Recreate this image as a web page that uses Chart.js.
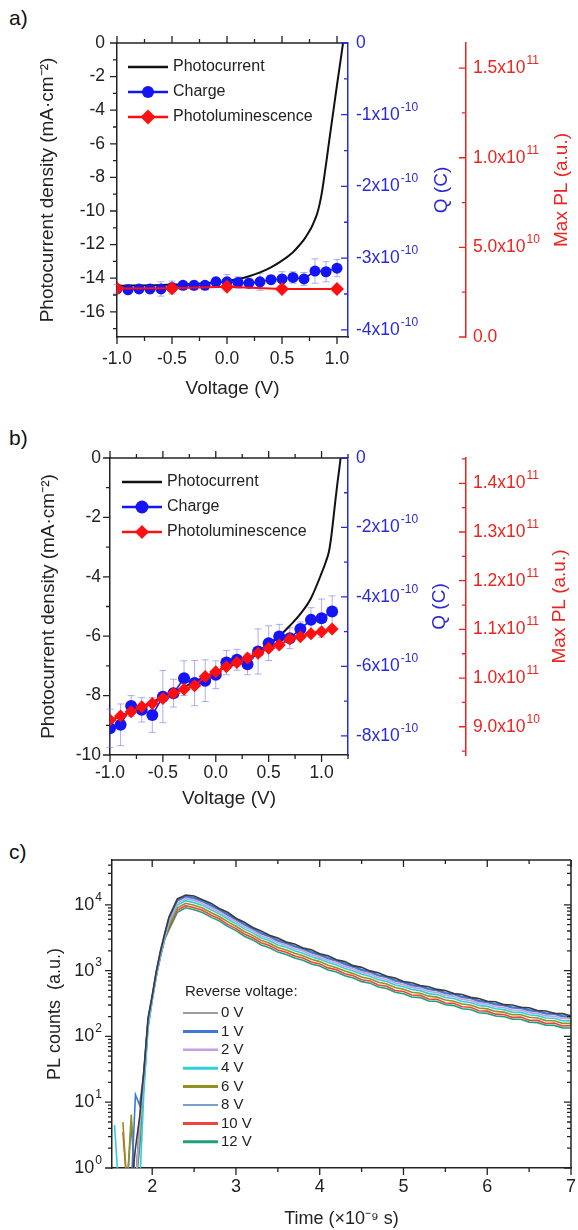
<!DOCTYPE html>
<html>
<head>
<meta charset="utf-8">
<script src="https://cdn.jsdelivr.net/npm/chart.js@4.4.1/dist/chart.umd.min.js"></script>
<style>
  body { margin: 0; background: #fff; width: 578px; height: 1230px; position: relative; overflow: hidden;
         font-family: Arial, "Liberation Sans", sans-serif; }
  canvas { position: absolute; left: 0; }
  .lab { position: absolute; left: 9px; font-size: 21px; color: #111; }
</style>
</head>
<body>
<div class="lab" style="top:6px">a)</div>
<div class="lab" style="top:426px">b)</div>
<div class="lab" style="top:840px">c)</div>
<canvas id="ca" width="578" height="400" style="top:0"></canvas>
<canvas id="cb" width="578" height="410" style="top:400px"></canvas>
<canvas id="cc" width="578" height="420" style="top:810px"></canvas>
<script>
// ---------- panel a ----------
const voltA = [-1.0,-0.9,-0.8,-0.7,-0.6,-0.5,-0.4,-0.3,-0.2,-0.1,0.0,0.1,0.2,0.3,0.4,0.5,0.6,0.7,0.8,0.9,1.0]
const chargeA = [-3.43,-3.44,-3.43,-3.43,-3.43,-3.41,-3.38,-3.38,-3.38,-3.33,-3.33,-3.34,-3.35,-3.33,-3.30,-3.29,-3.27,-3.29,-3.18,-3.19,-3.14] // x1e-10 C
const chargeErrA = [0.06,0.07,0.05,0.06,0.10,0.09,0.05,0.06,0.05,0.06,0.10,0.08,0.07,0.12,0.06,0.10,0.08,0.09,0.17,0.14,0.12]
const plVoltA = [-1.0,-0.5,0.0,0.5,1.0]
const plA = [2.70,2.72,2.80,2.68,2.68] // x1e10 a.u.
const jvVoltA = [-1.0,-0.6,-0.2,0.0,0.1,0.2,0.3,0.4,0.5,0.6,0.65,0.7,0.74,0.77,0.8,0.82,0.84,0.86,0.88,0.91,0.94,0.97,1.0,1.03,1.055]
const jvA = [-14.45,-14.4,-14.3,-14.18,-14.05,-13.88,-13.65,-13.35,-12.95,-12.45,-12.1,-11.7,-11.3,-10.95,-10.5,-10.15,-9.65,-9.0,-8.15,-6.75,-5.3,-3.9,-2.5,-1.15,0]
const xTicksA = [-1,-0.5,0,0.5,1]
const yTicksA = [0,-2,-4,-6,-8,-10,-12,-14,-16]
const qTicksA = [0,-1,-2,-3,-4]      // x1e-10
const plTicksA = [0,5,10,15]         // x1e10

// ---------- panel b ----------
const voltB = [-1.0,-0.9,-0.8,-0.7,-0.6,-0.5,-0.4,-0.3,-0.2,-0.1,0.0,0.1,0.2,0.3,0.4,0.5,0.6,0.7,0.8,0.9,1.0,1.1]
const chargeB = [-7.78,-7.68,-7.14,-7.25,-7.40,-6.87,-6.77,-6.34,-6.48,-6.41,-6.24,-5.89,-5.81,-5.94,-5.57,-5.33,-5.14,-5.19,-4.92,-4.66,-4.61,-4.42]
const chargeErrB = [0.55,0.6,0.3,0.35,0.5,0.75,0.4,0.5,0.65,0.6,0.4,0.35,0.3,0.3,0.65,0.5,0.35,0.3,0.2,0.35,0.55,0.45]
const plB = [9.14,9.22,9.31,9.41,9.48,9.58,9.69,9.77,9.84,10.03,10.13,10.23,10.32,10.41,10.51,10.61,10.68,10.80,10.85,10.91,10.95,11.01]
const jvVoltB = [-1.0,-0.5,0.0,0.3,0.5,0.6,0.7,0.8,0.9,1.0,1.04,1.07,1.09,1.11,1.13,1.15,1.17,1.18]
const jvB = [-8.85,-8.05,-7.2,-6.75,-6.3,-6.0,-5.65,-5.25,-4.72,-3.88,-3.5,-3.15,-2.7,-2.1,-1.45,-0.85,-0.3,0]
const xTicksB = [-1,-0.5,0,0.5,1]
const yTicksB = [0,-2,-4,-6,-8,-10]
const qTicksB = [0,-2,-4,-6,-8]
const plTicksB = [9,10,11,12,13,14]

// ---------- panel c ----------
const times = [1.55,1.6,1.65,1.7,1.75,1.8,1.85,1.9,1.95,2.0,2.05,2.1,2.15,
  2.2,2.3,2.4,2.5,2.6,2.7,2.8,2.9,3.0,3.1,3.2,3.3,3.4,3.5,3.6,3.7,3.8,3.9,4.0,4.1,4.2,4.3,4.4,4.5,4.6,4.7,4.8,4.9,
  5.0,5.1,5.2,5.3,5.4,5.5,5.6,5.7,5.8,5.9,6.0,6.1,6.2,6.3,6.4,6.5,6.6,6.7,6.8,6.9,7.0]
const pl0V = [null,null,null,null,0.5,2,6,30,190,420,1000,2050,3700,
  6500,12300,14100,13600,11900,10600,8800,7700,6250,5450,4520,4020,3440,3120,2720,2540,2210,2070,1800,1680,1460,1370,1190,1120,990,925,820,770,
  685,655,595,570,518,497,450,433,392,378,342,336,304,300,278,273,247,244,225,222,206]
const pl1V = [null,null,null,null,0.5,13,9,28,180,410,980,1950,3600,
  6300,11700,13700,12800,11600,9950,8600,7200,6150,5100,4450,3760,3390,2920,2680,2370,2190,1930,1770,1570,1440,1280,1170,1040,975,860,810,718,
  676,610,590,530,512,462,447,402,390,350,340,312,303,278,276,253,246,226,224,206,204]
const pl2V = [null,null,null,null,null,0.5,4,24,160,380,900,1800,3300,
  5700,10600,12400,11600,10500,9000,7800,6500,5550,4620,4030,3400,3060,2650,2420,2150,1980,1750,1600,1420,1305,1160,1060,940,885,780,735,650,
  612,552,533,482,464,420,404,365,352,318,308,283,274,252,249,230,222,205,203,188,186]
const pl4V = [4.5,0.5,null,null,null,null,0.5,14,130,350,850,1700,3100,
  5300,9900,11550,10800,9800,8400,7280,6080,5170,4310,3750,3170,2850,2460,2260,2000,1840,1625,1495,1325,1215,1080,985,878,822,728,684,606,
  570,515,496,447,432,390,376,340,328,296,286,263,255,234,232,213,207,190,189,173,172]
const pl6V = [null,null,5,0.5,6.5,0.5,3,22,150,370,870,1720,3150,
  4850,9000,10550,9850,8950,7650,6650,5550,4720,3930,3430,2900,2610,2250,2060,1830,1685,1490,1370,1210,1110,985,900,802,752,665,626,553,
  520,470,453,409,395,357,343,310,300,270,262,240,234,214,213,195,190,174,173,158,158]
const pl8V = [null,null,null,0.5,4.8,0.5,5,26,170,400,940,1850,3400,
  6000,11500,13300,12400,11250,9650,8350,6980,5920,4950,4300,3640,3270,2830,2590,2300,2110,1870,1710,1520,1400,1235,1130,1005,945,835,786,695,
  652,592,570,515,494,449,432,390,376,340,328,303,292,270,266,246,237,219,217,200,198]
const pl10V = [null,null,3.5,0.5,null,0.5,5,27,160,380,880,1750,3150,
  4450,8300,9700,9050,8250,7000,6150,5050,4350,3600,3160,2650,2400,2060,1900,1670,1550,1350,1265,1100,1030,895,835,728,695,605,580,500,
  482,425,420,370,366,322,318,282,277,245,242,218,215,195,197,176,175,157,160,144,146]
const pl12V = [null,null,null,null,null,0.5,2,18,140,360,830,1650,3000,
  4150,7700,9000,8400,7650,6500,5700,4700,4050,3330,2930,2460,2230,1910,1760,1550,1440,1260,1175,1025,950,835,770,680,645,563,536,468,
  446,398,389,346,339,302,294,263,257,229,224,204,200,182,182,165,162,148,147,135,134]
const voltLabels = ['0 V','1 V','2 V','4 V','6 V','8 V','10 V','12 V']
const tTicks = [2,3,4,5,6,7]
const logTicks = [1,10,100,1000,10000]

const FONT = 'Arial, "Liberation Sans", sans-serif'
const INK = '#222', BLUE = '#2a2ad6', RED = '#ec2420'
const seriesColors = ['#3c3c3c','#3b78d8','#c59ee4','#2ed0da','#929222','#4d7ebf','#f0443a','#1f9f7d']
const legendWidths = [1.2,3,2.5,3,3,1.5,3,3]
Chart.defaults.font.family = FONT
Chart.defaults.color = INK

const setTicks = arr => s => { s.ticks = arr.map(v => ({value: v})) }
function halves(major, lo, hi) {
  const st = Math.abs(major[1] - major[0]), out = []
  major.forEach(v => [v - st / 2, v + st / 2].forEach(m => {
    if (m >= lo - 1e-9 && m <= hi + 1e-9 && !out.some(o => Math.abs(o - m) < 1e-9)) out.push(m)
  }))
  return out
}
function logMinor(lo, hi) {
  const out = []
  for (let e = Math.floor(Math.log10(lo)); e <= Math.ceil(Math.log10(hi)); e++)
    for (let k = 2; k < 10; k++) { const v = k * Math.pow(10, e); if (v >= lo && v <= hi) out.push(v) }
  return out
}
const sciFmt = (unit, dec, zero) => v => {
  if (v === 0) return [zero, null]
  const real = v * unit
  const e = Math.floor(Math.log10(Math.abs(real)) + 1e-9)
  return [(real / Math.pow(10, e)).toFixed(dec) + 'x10', String(e)]
}
const powFmt = v => ['10', String(Math.round(Math.log10(v)))]

function drawExp(ctx, parts, x, y, align, size, color) {
  const [mant, exp] = parts
  ctx.save()
  ctx.fillStyle = color; ctx.textBaseline = 'middle'; ctx.textAlign = 'left'
  const big = size + 'px ' + FONT, small = Math.round(size * 0.68) + 'px ' + FONT
  ctx.font = big
  const wm = ctx.measureText(mant).width
  ctx.font = small
  const we = exp == null ? 0 : ctx.measureText(exp).width + 1
  const x0 = align === 'right' ? x - wm - we : x
  ctx.font = big
  ctx.fillText(mant, x0, y)
  if (exp != null) { ctx.font = small; ctx.fillText(exp, x0 + wm + 1, y - size * 0.42) }
  ctx.restore()
}
function marker(ctx, style, r, x, y) {
  ctx.beginPath()
  if (style === 'rectRot') { ctx.moveTo(x, y - r); ctx.lineTo(x + r, y); ctx.lineTo(x, y + r); ctx.lineTo(x - r, y); ctx.closePath() }
  else ctx.arc(x, y, r, 0, Math.PI * 2)
  ctx.fill()
}
function drawLegend(chart, L) {
  const {ctx, chartArea: a} = chart
  const x = a.left + L.dx
  let y = a.top + L.dy
  ctx.save()
  ctx.font = L.size + 'px ' + FONT; ctx.textBaseline = 'middle'; ctx.textAlign = 'left'
  if (L.title) { ctx.fillStyle = INK; ctx.fillText(L.title, a.left + L.titleDx, a.top + L.titleDy) }
  chart.data.datasets.forEach((ds, i) => {
    ctx.strokeStyle = ds.borderColor
    ctx.lineWidth = L.widths ? L.widths[i] : 2.5
    ctx.beginPath(); ctx.moveTo(x, y); ctx.lineTo(x + L.len, y); ctx.stroke()
    if (ds.pointRadius > 0) { ctx.fillStyle = ds.backgroundColor; marker(ctx, ds.pointStyle, ds.pointRadius + 0.5, x + L.len / 2, y) }
    ctx.fillStyle = INK
    ctx.fillText(ds.label, x + L.len + L.gap, y)
    y += L.row
  })
  ctx.restore()
}

// frame, tick marks, exponent labels, right titles, legend, error bars
function decor(cfg) {
  return {
    id: 'decor',
    beforeDatasetsDraw(chart) {
      const {ctx} = chart
      chart.data.datasets.forEach(ds => {
        if (!ds.errors) return
        const xs = chart.scales.x, ys = chart.scales[ds.yAxisID]
        ctx.save()
        ctx.strokeStyle = 'rgba(118,118,236,0.6)'; ctx.lineWidth = 1
        ctx.beginPath()
        ds.data.forEach((p, j) => {
          const px = xs.getPixelForValue(p.x)
          const y1 = ys.getPixelForValue(p.y - ds.errors[j]), y2 = ys.getPixelForValue(p.y + ds.errors[j])
          ctx.moveTo(px, y1); ctx.lineTo(px, y2)
          ctx.moveTo(px - 3.5, y1); ctx.lineTo(px + 3.5, y1)
          ctx.moveTo(px - 3.5, y2); ctx.lineTo(px + 3.5, y2)
        })
        ctx.stroke(); ctx.restore()
      })
    },
    afterDraw(chart) {
      const {ctx, chartArea: a, scales} = chart
      ctx.save()
      ctx.strokeStyle = INK; ctx.lineWidth = 1.5
      ctx.beginPath()
      ctx.moveTo(a.left, a.top); ctx.lineTo(a.right, a.top)
      if (cfg.boxRight) { ctx.moveTo(a.right, a.top); ctx.lineTo(a.right, a.bottom) }
      ctx.stroke()
      cfg.marks.forEach(m => {
        const s = scales[m.id]
        let pos
        if (m.edge === 'top') pos = a.top
        else if (m.edge === 'bottom') pos = a.bottom
        else if (m.edge === 'left') pos = a.left
        else if (m.edge === 'right') pos = a.right
        else pos = s.left
        ctx.strokeStyle = m.color || INK; ctx.lineWidth = 1.3
        ctx.beginPath()
        ;[[m.major, 7], [m.minor || [], 4]].forEach(([vals, len]) => vals.forEach(v => {
          const p = s.getPixelForValue(v)
          if (s.isHorizontal()) { ctx.moveTo(p, pos); ctx.lineTo(p, pos + m.dir * len) }
          else { ctx.moveTo(pos, p); ctx.lineTo(pos + m.dir * len, p) }
        }))
        ctx.stroke()
      })
      ;(cfg.expLabels || []).forEach(l => {
        const s = scales[l.id]
        l.ticks.forEach(v => {
          const y = s.getPixelForValue(v)
          const x = l.side === 'left' ? s.right - l.gap : s.left + l.gap
          drawExp(ctx, l.format(v), x, y, l.side === 'left' ? 'right' : 'left', l.size, l.color)
        })
      })
      ;(cfg.sideTitles || []).forEach(t => {
        const s = scales[t.id]
        ctx.save()
        ctx.translate(s.left + t.offset, (a.top + a.bottom) / 2)
        ctx.rotate(-Math.PI / 2)
        ctx.font = '19px ' + FONT; ctx.fillStyle = t.color; ctx.textAlign = 'center'; ctx.textBaseline = 'middle'
        ctx.fillText(t.text, 0, 0)
        ctx.restore()
      })
      if (cfg.legend) drawLegend(chart, cfg.legend)
      ctx.restore()
    }
  }
}

const pts = (xs, ys) => xs.map((x, i) => ({x: x, y: ys[i]}))
const noGrid = {display: false, drawTicks: true, tickLength: 7}

function ivChart(id, o) {
  return new Chart(document.getElementById(id), {
    type: 'line',
    data: {
      datasets: [
        {label: 'Photocurrent', data: pts(o.jvV, o.jv), yAxisID: 'y', borderColor: '#111', borderWidth: 2,
         pointRadius: 0, cubicInterpolationMode: 'monotone', order: 3},
        {label: 'Charge', data: pts(o.v, o.q), yAxisID: 'yq', borderColor: '#1414f5', backgroundColor: '#1414f5',
         borderWidth: 1.5, pointRadius: o.dot, pointBorderWidth: 0, pointStyle: 'circle', errors: o.qErr, order: 2},
        {label: 'Photoluminescence', data: pts(o.plV, o.pl), yAxisID: 'ypl', borderColor: '#ff1010', backgroundColor: '#ff1010',
         borderWidth: 2, pointRadius: o.dia, pointBorderWidth: 0, pointStyle: 'rectRot', order: 1}
      ]
    },
    options: {
      responsive: false, animation: false, events: [],
      layout: {padding: {left: 0, top: o.top, right: 0, bottom: 0}},
      plugins: {legend: {display: false}, tooltip: {enabled: false}},
      scales: {
        x: {type: 'linear', min: o.xMin, max: o.xMax, afterBuildTicks: setTicks(o.xTicks), afterFit: s => { s.height = o.xH },
            grid: noGrid, border: {display: true, color: INK, width: 1.5},
            ticks: {font: {size: 17.5}, color: INK, padding: o.xPad, maxRotation: 0, callback: v => v.toFixed(1)},
            title: {display: true, text: 'Voltage (V)', font: {size: 19}, color: INK, padding: 0}},
        y: {type: 'linear', position: 'left', min: o.yMin, max: 0, afterBuildTicks: setTicks(o.yTicks), afterFit: s => { s.width = o.yW },
            grid: noGrid, border: {display: true, color: INK, width: 1.5},
            ticks: {font: {size: 17.5}, color: INK, padding: o.yPad, callback: v => String(v)},
            title: {display: true, text: 'Photocurrent density (mA·cm⁻²)', font: {size: 19}, color: INK, padding: {top: o.yTitle, bottom: 0}}},
        yq: {type: 'linear', position: 'right', weight: 1, min: o.qMin, max: 0, afterBuildTicks: setTicks(o.qTicks),
             afterFit: s => { s.width = 118 }, grid: noGrid, border: {display: true, color: BLUE, width: 1.5}, ticks: {display: false}},
        ypl: {type: 'linear', position: 'right', weight: 2, min: o.plMin, max: o.plMax, afterBuildTicks: setTicks(o.plTicks),
              afterFit: s => { s.width = 112 }, grid: noGrid, border: {display: true, color: RED, width: 1.5}, ticks: {display: false}}
      }
    },
    plugins: [decor({
      marks: [
        {id: 'x', edge: 'bottom', dir: 1, major: o.xTicks, minor: halves(o.xTicks, o.xMin, o.xMax)},
        {id: 'x', edge: 'top', dir: -1, major: o.xTicks, minor: halves(o.xTicks, o.xMin, o.xMax)},
        {id: 'y', edge: 'left', dir: -1, major: o.yTicks, minor: halves(o.yTicks, o.yMin, 0)},
        {id: 'yq', edge: 'axis', dir: -1, major: o.qTicks, minor: halves(o.qTicks, o.qMin, 0), color: BLUE},
        {id: 'ypl', edge: 'axis', dir: -1, major: o.plTicks, minor: halves(o.plTicks, o.plMin, o.plMax), color: RED}
      ],
      expLabels: [
        {id: 'yq', ticks: o.qTicks, format: sciFmt(1e-10, 0, '0'), side: 'right', gap: 8, size: 17.5, color: BLUE},
        {id: 'ypl', ticks: o.plTicks, format: sciFmt(1e10, 1, '0.0'), side: 'right', gap: 7, size: 17.5, color: RED}
      ],
      sideTitles: [
        {id: 'yq', text: 'Q (C)', color: BLUE, offset: o.qT},
        {id: 'ypl', text: 'Max PL (a.u.)', color: RED, offset: o.plT}
      ],
      legend: {dx: o.lgX, dy: 24, row: 25, len: 40, gap: 5, size: 16}
    })]
  })
}

ivChart('ca', {jvV: jvVoltA, jv: jvA, v: voltA, q: chargeA, qErr: chargeErrA, plV: plVoltA, pl: plA,
  xMin: -1, xMax: 1.1, xTicks: xTicksA, yMin: -17.5, yTicks: yTicksA, qMin: -4.1, qTicks: qTicksA,
  plMin: 0, plMax: 16.4, plTicks: plTicksA, top: 43, xH: 63, xPad: 5, yW: 117, yPad: 5, yTitle: 36.6,
  qT: 94, plT: 96, lgX: 11, dot: 5.5, dia: 7})

ivChart('cb', {jvV: jvVoltB, jv: jvB, v: voltB, q: chargeB, qErr: chargeErrB, plV: voltB, pl: plB,
  xMin: -1, xMax: 1.25, xTicks: xTicksB, yMin: -10, yTicks: yTicksB, qMin: -8.55, qTicks: qTicksB,
  plMin: 8.42, plMax: 14.52, plTicks: plTicksB, top: 58, xH: 55, xPad: 1, yW: 110, yPad: 2, yTitle: 37.6,
  qT: 92, plT: 94, lgX: 12, dot: 6, dia: 6.5})

const plSeries = [pl0V, pl1V, pl2V, pl4V, pl6V, pl8V, pl10V, pl12V]
new Chart(document.getElementById('cc'), {
  type: 'line',
  data: {
    datasets: plSeries.map((arr, i) => ({
      label: voltLabels[i], data: pts(times, arr), borderColor: seriesColors[i], borderWidth: 1.6,
      pointRadius: 0, spanGaps: false
    }))
  },
  options: {
    responsive: false, animation: false, events: [],
    layout: {padding: {left: 0, top: 50, right: 7, bottom: 0}},
    plugins: {legend: {display: false}, tooltip: {enabled: false}},
    scales: {
      x: {type: 'linear', min: 1.52, max: 7, afterBuildTicks: setTicks(tTicks), afterFit: s => { s.height = 62 },
          grid: noGrid, border: {display: true, color: INK, width: 1.5},
          ticks: {font: {size: 18}, color: INK, padding: 1, maxRotation: 0, callback: v => String(v)},
          title: {display: true, text: 'Time (×10⁻⁹ s)', font: {size: 18}, color: INK, padding: 0}},
      y: {type: 'logarithmic', position: 'left', min: 1, max: 48000, afterBuildTicks: setTicks(logTicks),
          afterFit: s => { s.width = 112 }, grid: noGrid, border: {display: true, color: INK, width: 1.5},
          ticks: {display: false},
          title: {display: true, text: 'PL counts  (a.u.)', font: {size: 18}, color: INK, padding: {top: 44, bottom: 0}}}
    }
  },
  plugins: [decor({
    boxRight: true,
    marks: [
      {id: 'x', edge: 'bottom', dir: 1, major: tTicks, minor: halves(tTicks, 1.52, 7)},
      {id: 'x', edge: 'top', dir: 1, major: tTicks, minor: halves(tTicks, 1.52, 7)},
      {id: 'y', edge: 'left', dir: -1, major: logTicks, minor: logMinor(1, 48000)},
      {id: 'y', edge: 'right', dir: -1, major: logTicks, minor: logMinor(1, 48000)}
    ],
    expLabels: [{id: 'y', ticks: logTicks, format: powFmt, side: 'left', gap: 10, size: 18, color: INK}],
    legend: {dx: 71, dy: 153, row: 18.4, len: 35, gap: 3, size: 15, widths: legendWidths,
             title: 'Reverse voltage:', titleDx: 73, titleDy: 132}
  })]
})
</script>
</body>
</html>
